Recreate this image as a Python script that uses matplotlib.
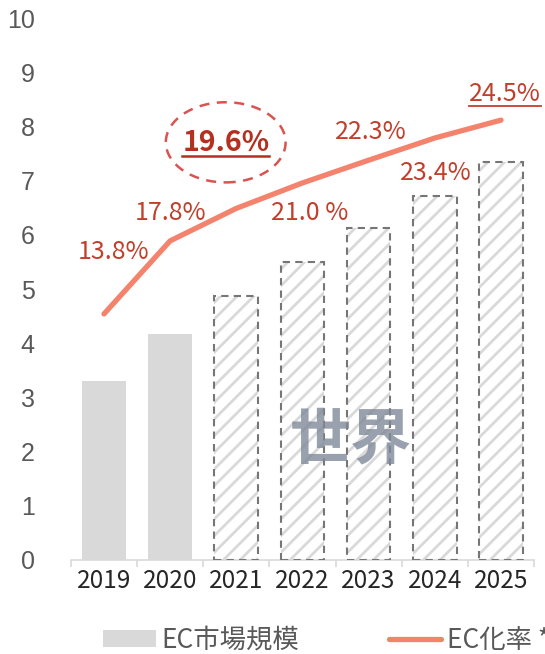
import numpy as np
import matplotlib.pyplot as plt
from matplotlib.patches import Ellipse, Patch
from matplotlib.lines import Line2D

plt.rcParams['font.family'] = ['Noto Sans CJK JP', 'DejaVu Sans']
plt.rcParams['hatch.linewidth'] = 2.0

# data
years = ['2019', '2020', '2021', '2022', '2023', '2024', '2025']
market = [3.30, 4.17, 4.87, 5.50, 6.13, 6.72, 7.34]
forecast = [False, False, True, True, True, True, True]
ec_line = [4.54, 5.89, 6.49, 6.96, 7.38, 7.79, 8.12]
rate_labels = ['13.8%', '17.8%', '19.6%', '21.0 %', '22.3%', '23.4%', '24.5%']

# label placement (x in category units, y in axis units)
lab_x = [0.14, 1.01, 1.84, 3.11, 4.04, 5.02, 6.06]
lab_y = [5.68, 6.40, 7.69, 6.40, 7.90, 7.14, 8.60]

red = '#C0402C'
line_c = '#F4836D'
grey = '#D9D9D9'

fig = plt.figure(figsize=(5.45, 6.54), dpi=100)
ax = fig.add_axes([0.13, 0.144, 0.85, 0.828])

x = np.arange(len(years))
w = 0.66
for i in range(len(years)):
    if not forecast[i]:
        ax.bar(x[i], market[i], width=w, color=grey, zorder=2)
    else:
        ax.bar(x[i], market[i], width=w, facecolor='white', edgecolor=grey,
               hatch='//', linewidth=0, zorder=2)
        ax.bar(x[i], market[i], width=w, facecolor='none', edgecolor='#767676',
               linestyle=(0, (3.5, 2.5)), linewidth=1.5, zorder=3)

ax.plot(x, ec_line, color=line_c, lw=3.8, solid_capstyle='round',
        solid_joinstyle='round', zorder=4)

texts = []
for i, t in enumerate(rate_labels):
    if i == 2:
        tx = ax.text(lab_x[i], lab_y[i], t, color='#B5301E', fontsize=20.5,
                     fontweight='bold', ha='center', va='center', zorder=5)
    else:
        tx = ax.text(lab_x[i], lab_y[i], t, color=red, fontsize=18,
                     ha='center', va='center', zorder=5)
    texts.append(tx)

ax.add_patch(Ellipse((1.84, 7.71), 1.81, 1.48, fill=False, edgecolor='#D9534F',
                     linestyle=(0, (4, 3)), lw=1.8, zorder=5))

ax.text(3.73, 2.2, '世界', fontsize=44, fontweight='bold', color='#7F8A99',
        alpha=0.8, ha='center', va='center', zorder=6)

ax.set_xlim(-0.5, len(years) - 0.5)
ax.set_ylim(0, 10)
ax.set_yticks(range(0, 11))
ax.set_xticks(x)
ax.set_xticklabels(years)
ax.set_xticks(np.arange(-0.5, len(years)), minor=True)
ax.tick_params(axis='x', which='major', length=0, labelsize=17.5,
               labelcolor='#262626', pad=6)
ax.tick_params(axis='x', which='minor', length=5, color=grey, width=1.2)
ax.tick_params(axis='y', length=0, labelsize=18, labelcolor='#595959', pad=26)
for tl in ax.get_yticklabels():
    tl.set_fontfamily(['Liberation Sans', 'DejaVu Sans'])
for s in ['top', 'right', 'left']:
    ax.spines[s].set_visible(False)
ax.spines['bottom'].set_color(grey)
ax.spines['bottom'].set_linewidth(1.2)

handles = [Patch(facecolor=grey, edgecolor='none'),
           Line2D([0], [0], color=line_c, lw=3.8, solid_capstyle='round')]
fig.legend(handles, ['EC市場規模', 'EC化率 *'], loc='center left',
           bbox_to_anchor=(0.189, 0.021), ncol=2, frameon=False, fontsize=19,
           labelcolor='#595959', handlelength=2.0, handleheight=0.6,
           handletextpad=0.2, columnspacing=3.4, borderaxespad=0, borderpad=0)

# underline the 19.6% and 24.5% labels
fig.canvas.draw()
r = fig.canvas.get_renderer()
inv = fig.transFigure.inverted()
for i, lw in [(2, 1.8), (6, 1.3)]:
    bb = texts[i].get_window_extent(r)
    (x0, y0) = inv.transform((bb.x0, bb.y0 + 1))
    (x1, _) = inv.transform((bb.x1, bb.y0 + 1))
    fig.add_artist(Line2D([x0, x1], [y0, y0], color=texts[i].get_color(), lw=lw,
                          transform=fig.transFigure))

fig.savefig('out.png', dpi=100)
